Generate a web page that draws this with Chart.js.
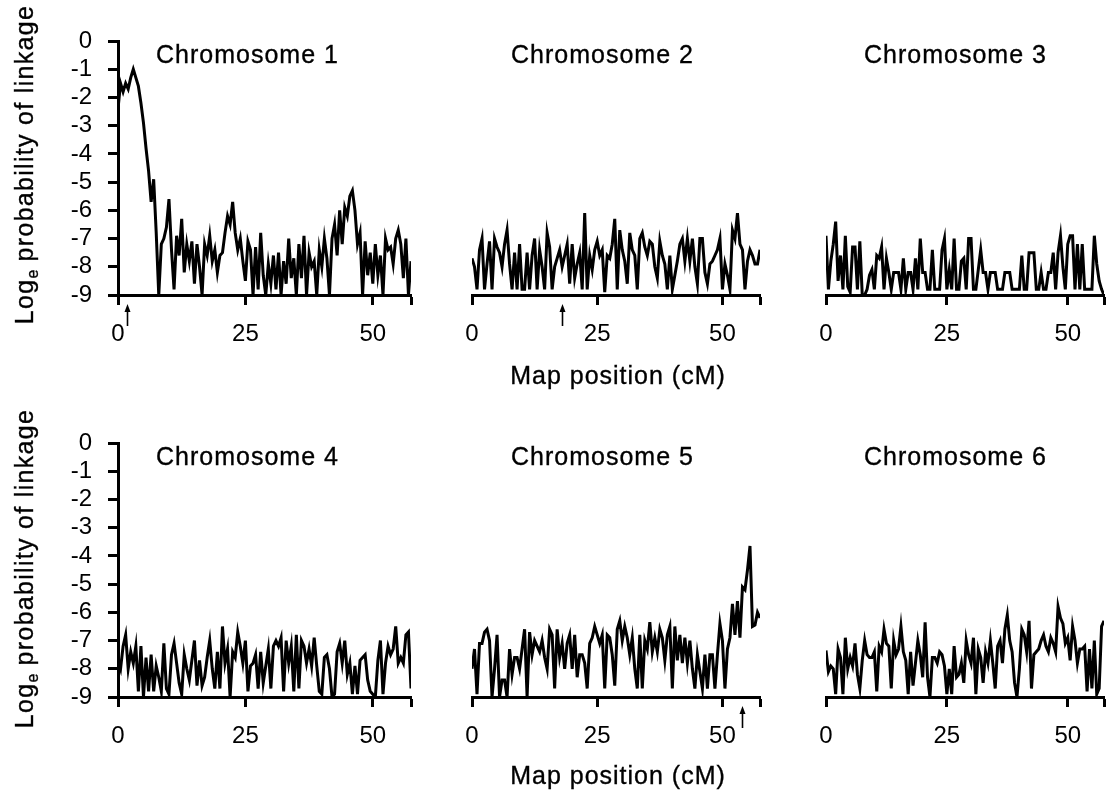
<!DOCTYPE html>
<html>
<head>
<meta charset="utf-8">
<title>Log probability of linkage by chromosome</title>
<script src="https://cdn.jsdelivr.net/npm/chart.js@4.4.1/dist/chart.umd.min.js"></script>
<style>
    body { margin: 0; background: #fff; }
    #fig { position: relative; width: 1119px; height: 793px; overflow: hidden; background: #fff;
           font-family: 'Liberation Sans', Arial, Helvetica, sans-serif; color: #000; }
    #fig canvas { position: absolute; }
    .txt { position: absolute; font-size: 25px; line-height: 25px; letter-spacing: 1px; white-space: nowrap;
           -webkit-text-stroke: 0.35px #000; }
    .xtitle { width: 300px; text-align: center; }
    .ytitle { width: 340px; height: 25px; text-align: center; transform: rotate(-90deg); letter-spacing: 1.3px; }
    .ytitle sub { font-size: 16px; vertical-align: baseline; position: relative; top: 5px; letter-spacing: 0; }
</style>
</head>
<body>
<div id="fig">
    <canvas id="c1" width="430" height="400" style="left:0;top:0"></canvas>
    <canvas id="c2" width="335" height="400" style="left:440px;top:0"></canvas>
    <canvas id="c3" width="329" height="400" style="left:790px;top:0"></canvas>
    <canvas id="c4" width="430" height="393" style="left:0;top:400px"></canvas>
    <canvas id="c5" width="335" height="393" style="left:440px;top:400px"></canvas>
    <canvas id="c6" width="329" height="393" style="left:790px;top:400px"></canvas>

    <div class="txt" style="left:156px;top:42px">Chromosome 1</div>
    <div class="txt" style="left:511px;top:42px">Chromosome 2</div>
    <div class="txt" style="left:864px;top:42px">Chromosome 3</div>
    <div class="txt" style="left:156px;top:444px">Chromosome 4</div>
    <div class="txt" style="left:511px;top:444px">Chromosome 5</div>
    <div class="txt" style="left:864px;top:444px">Chromosome 6</div>

    <div class="txt xtitle" style="left:468px;top:363px">Map position (cM)</div>
    <div class="txt xtitle" style="left:468px;top:763px">Map position (cM)</div>

    <div class="txt ytitle" style="left:-146px;top:152px">Log<sub>e</sub> probability of linkage</div>
    <div class="txt ytitle" style="left:-146px;top:556px">Log<sub>e</sub> probability of linkage</div>
</div>

<script>
// --- dados (passo de 0,5 cM, 0 a 57,5 cM) ---
const mapPositions = Array.from({ length: 116 }, (_, i) => i * 0.5);
const xTickValues = [0, 25, 50, 57.5];
const yTickMin = -9;
const yTickMax = 0;

const chr1 = [
    -2.4, -1.5, -1.8, -1.5, -1.7, -1.3, -1.0, -1.3, -1.6, -2.2,
    -2.9, -3.8, -4.6, -5.7, -4.9, -6.8, -9, -7.2, -7.0, -6.6,
    -5.6, -7.4, -8.8, -6.9, -7.6, -6.3, -8.2, -7.2, -7.8, -7.1,
    -8.6, -7.2, -8.0, -9, -7.2, -7.6, -6.9, -7.8, -7.4, -8.2,
    -7.6, -7.5, -6.8, -6.2, -6.5, -5.7, -6.8, -7.4, -7.0, -7.8,
    -8.5, -7.1, -7.4, -9, -7.3, -8.8, -6.8, -8.3, -9, -7.9,
    -8.6, -7.6, -8.8, -7.5, -9, -7.8, -8.6, -7.0, -8.4, -7.7,
    -9, -7.2, -8.4, -6.9, -9, -7.5, -8.0, -7.8, -9, -7.4,
    -8.0, -7.0, -7.7, -9, -7.0, -6.5, -7.6, -6.0, -7.2, -5.9,
    -6.2, -5.5, -5.3, -6.0, -7.2, -6.8, -9, -7.1, -8.3, -7.5,
    -8.6, -7.2, -8.3, -7.6, -9, -7.0, -7.4, -7.3, -7.9, -7.0,
    -6.7, -7.2, -8.4, -7.0, -9, -7.8
];
const chr2 = [
    -7.7, -8.0, -8.8, -7.4, -7.0, -8.8, -7.9, -7.1, -8.8, -7.0,
    -7.3, -7.5, -8.0, -7.2, -6.7, -7.9, -8.8, -7.5, -8.8, -7.2,
    -8.8, -8.8, -7.5, -8.8, -7.6, -7.0, -8.8, -7.4, -8.0, -8.8,
    -6.8, -7.3, -8.8, -8.0, -7.7, -7.4, -8.0, -7.6, -7.2, -8.6,
    -7.2, -8.4, -7.9, -7.5, -8.8, -6.1, -8.8, -7.6, -8.1, -7.4,
    -7.1, -7.6, -7.4, -8.9, -7.6, -7.7, -7.2, -6.3, -8.8, -6.7,
    -7.4, -7.8, -8.6, -6.8, -7.4, -7.6, -8.8, -7.0, -6.8, -7.3,
    -7.6, -7.1, -7.2, -8.0, -8.4, -7.1, -7.6, -7.9, -8.8, -7.6,
    -8.8, -8.3, -7.8, -7.2, -7.0, -7.8, -7.0, -7.8, -7.0, -8.0,
    -8.6, -7.0, -7.0, -8.2, -8.6, -7.9, -7.8, -7.6, -7.4, -7.0,
    -8.8, -7.9, -8.3, -8.8, -6.7, -7.0, -6.1, -7.2, -7.4, -8.8,
    -7.8, -7.4, -7.6, -7.9, -7.9, -7.4
];
const chr3 = [
    -6.9, -8.8, -7.8, -7.2, -6.4, -8.5, -7.6, -8.8, -6.9, -8.7,
    -8.9, -7.3, -7.3, -8.8, -7.1, -9, -9, -8.8, -8.3, -8.1,
    -8.8, -7.6, -7.7, -7.3, -8.8, -7.7, -8.2, -8.8, -8.2, -8.2,
    -8.2, -8.8, -7.7, -8.8, -8.2, -8.2, -8.8, -7.7, -8.8, -7.0,
    -8.2, -8.2, -8.8, -8.8, -7.4, -8.8, -8.8, -8.8, -7.4, -7.0,
    -8.8, -8.1, -8.8, -7.0, -8.8, -8.8, -7.8, -7.7, -8.8, -7.0,
    -7.0, -8.8, -8.8, -8.1, -7.4, -8.2, -8.2, -8.8, -8.2, -8.2,
    -8.2, -8.8, -8.8, -8.8, -8.2, -8.2, -8.2, -8.8, -8.8, -8.8,
    -8.8, -7.6, -8.8, -8.8, -7.5, -7.5, -7.5, -8.8, -8.8, -8.2,
    -8.8, -8.8, -8.2, -8.2, -7.5, -8.8, -7.5, -6.9, -8.0, -8.8,
    -7.2, -6.9, -6.9, -8.8, -7.2, -8.8, -7.2, -8.8, -8.8, -8.8,
    -8.8, -6.9, -7.9, -8.5, -8.8, -9
];
const chr4 = [
    -7.7, -8.0, -7.2, -6.8, -8.0, -7.4, -7.8, -7.2, -8.8, -7.2,
    -9, -7.6, -8.8, -7.5, -8.8, -7.9, -8.3, -8.8, -7.1, -8.7,
    -8.9, -7.5, -7.1, -7.8, -8.5, -8.9, -7.5, -8.0, -8.4, -7.7,
    -7.0, -8.6, -7.7, -8.6, -8.3, -7.6, -7.0, -8.0, -8.7, -7.4,
    -8.7, -6.5, -7.8, -7.3, -9, -7.4, -7.6, -6.7, -7.2, -7.8,
    -7.0, -8.8, -7.9, -7.8, -7.5, -8.7, -7.4, -8.5, -7.9, -7.3,
    -8.7, -7.2, -7.0, -7.2, -6.9, -8.8, -7.0, -7.8, -7.2, -8.8,
    -6.8, -8.7, -7.0, -7.2, -7.8, -7.3, -7.9, -6.9, -7.9, -8.8,
    -8.9, -7.6, -7.5, -8.0, -9, -8.9, -7.4, -7.1, -7.8, -7.0,
    -8.2, -7.8, -8.9, -7.9, -8.9, -7.7, -7.6, -7.5, -8.4, -8.8,
    -8.9, -9, -7.7, -7.0, -8.9, -7.8, -7.2, -7.5, -7.3, -6.5,
    -7.8, -7.6, -7.8, -6.8, -6.7, -8.7
];
const chr5 = [
    -8.0, -7.3, -8.9, -7.1, -7.1, -6.7, -6.6, -7.0, -9, -8.0,
    -6.8, -9, -8.4, -8.4, -9, -7.3, -8.2, -7.6, -7.6, -8.0,
    -7.3, -6.6, -9, -6.7, -7.5, -7.0, -7.2, -7.4, -7.0, -7.6,
    -8.0, -6.6, -6.8, -8.7, -6.6, -7.6, -7.1, -8.0, -7.1, -6.8,
    -8.0, -6.8, -8.3, -7.5, -7.5, -7.8, -8.7, -7.1, -6.9, -6.5,
    -6.8, -7.1, -6.8, -8.7, -6.8, -6.9, -7.5, -8.6, -6.6, -6.3,
    -7.0, -6.5, -6.9, -7.5, -6.9, -8.0, -8.7, -6.8, -8.7, -7.0,
    -7.3, -6.35, -7.4, -6.9, -7.4, -6.6, -6.9, -7.7, -6.8, -6.5,
    -8.7, -6.5, -7.7, -6.8, -7.8, -6.9, -7.8, -7.0, -8.0, -8.7,
    -7.5, -8.1, -8.7, -7.5, -8.7, -7.5, -7.5, -8.7, -7.5, -6.4,
    -7.0, -8.7, -7.3, -6.9, -5.7, -6.8, -5.6, -6.9, -5.1, -5.2,
    -4.5, -3.65, -6.5, -6.45, -6.0, -6.2
];
const chr6 = [
    -7.35, -8.1, -7.9, -8.0, -8.9, -7.3, -7.6, -8.9, -6.9, -8.0,
    -7.6, -7.9, -7.1, -8.2, -8.7, -7.7, -7.0, -7.5, -7.6, -7.6,
    -7.4, -8.8, -7.2, -7.4, -6.6, -7.1, -7.2, -8.7, -7.0, -7.5,
    -7.3, -6.5, -7.4, -7.7, -8.9, -7.4, -8.6, -7.8, -7.0, -7.5,
    -8.3, -6.35, -8.3, -9, -7.6, -7.6, -7.8, -7.4, -7.5, -7.9,
    -8.9, -8.0, -8.9, -7.2, -8.3, -8.2, -7.8, -8.5, -7.0, -7.5,
    -7.8, -6.9, -8.9, -7.3, -7.6, -8.5, -7.4, -7.8, -7.0, -7.8,
    -8.7, -7.2, -7.0, -7.8, -6.6, -6.1, -7.0, -7.4, -8.5, -9,
    -8.0, -6.6, -6.8, -7.4, -6.3, -8.7, -7.5, -7.4, -7.3, -7.0,
    -6.8, -7.2, -7.4, -6.9, -7.1, -7.4, -5.8, -6.2, -6.4, -7.1,
    -6.9, -7.7, -6.5, -7.0, -7.8, -7.3, -7.3, -7.2, -8.8, -7.3,
    -8.7, -7.0, -8.9, -8.7, -6.5, -6.3
];

// posições das setas (cM) sob o eixo x, por painel
const markerPositions = [1.7, 18, null, null, 54, null];

// --- layout dos painéis ---
const panels = [
    { id: 'c1', values: chr1, yAxis: true,  pad: { left: 0,  right: 19, top: 41 }, xHeight: 105 },
    { id: 'c2', values: chr2, yAxis: false, pad: { left: 32, right: 10, top: 41 }, xHeight: 105 },
    { id: 'c3', values: chr3, yAxis: false, pad: { left: 36, right: 0,  top: 41 }, xHeight: 105 },
    { id: 'c4', values: chr4, yAxis: true,  pad: { left: 0,  right: 19, top: 43 }, xHeight: 96 },
    { id: 'c5', values: chr5, yAxis: false, pad: { left: 32, right: 10, top: 43 }, xHeight: 96 },
    { id: 'c6', values: chr6, yAxis: false, pad: { left: 36, right: 0,  top: 43 }, xHeight: 96 }
];

const FONT = "'Liberation Sans', Arial, Helvetica, sans-serif";

// seta vertical abaixo do eixo x
const markerArrow = {
    id: 'markerArrow',
    afterDraw(chart, args, opts) {
        if (opts.at == null) return;
        const ctx = chart.ctx;
        const x = Math.round(chart.scales.x.getPixelForValue(opts.at)) + 0.5;
        const top = chart.chartArea.bottom + 9;
        ctx.save();
        ctx.strokeStyle = '#000';
        ctx.fillStyle = '#000';
        ctx.lineWidth = 1.6;
        ctx.beginPath();
        ctx.moveTo(x, top + 4);
        ctx.lineTo(x, top + 22);
        ctx.stroke();
        ctx.beginPath();
        ctx.moveTo(x, top);
        ctx.lineTo(x - 3, top + 8);
        ctx.lineTo(x + 3, top + 8);
        ctx.closePath();
        ctx.fill();
        ctx.restore();
    }
};

function axisStyle() {
    return {
        grid: { drawOnChartArea: false, drawTicks: true, tickLength: 10, tickWidth: 3, tickColor: '#000', color: '#000' },
        border: { display: true, color: '#000', width: 3 }
    };
}

panels.forEach((p, idx) => {
    const ctx = document.getElementById(p.id).getContext('2d');
    new Chart(ctx, {
        type: 'line',
        data: {
            datasets: [{
                data: mapPositions.map((x, i) => ({ x, y: p.values[i] })),
                borderColor: '#000',
                borderWidth: 3,
                pointRadius: 0,
                tension: 0,
                fill: false
            }]
        },
        options: {
            responsive: false,
            animation: false,
            events: [],
            layout: { padding: { left: p.pad.left, right: p.pad.right, top: p.pad.top, bottom: 0 } },
            plugins: {
                legend: { display: false },
                tooltip: { enabled: false },
                markerArrow: { at: markerPositions[idx] }
            },
            scales: {
                x: {
                    type: 'linear',
                    min: 0,
                    max: 57.5,
                    ...axisStyle(),
                    afterBuildTicks: s => { s.ticks = xTickValues.map(v => ({ value: v })); },
                    afterFit: s => { s.height = p.xHeight; },
                    ticks: {
                        autoSkip: false, maxRotation: 0, padding: 15, color: '#000',
                        font: { family: FONT, size: 24 },
                        callback: v => (v === 57.5 ? '' : String(v))
                    }
                },
                y: {
                    display: p.yAxis,
                    min: yTickMin,
                    max: yTickMax,
                    ...axisStyle(),
                    afterFit: s => { if (p.yAxis) s.width = 118; },
                    ticks: {
                        stepSize: 1, autoSkip: false, padding: 16, color: '#000',
                        font: { family: FONT, size: 24 },
                        callback: v => String(v)
                    }
                }
            }
        },
        plugins: [markerArrow]
    });
});
</script>
</body>
</html>
